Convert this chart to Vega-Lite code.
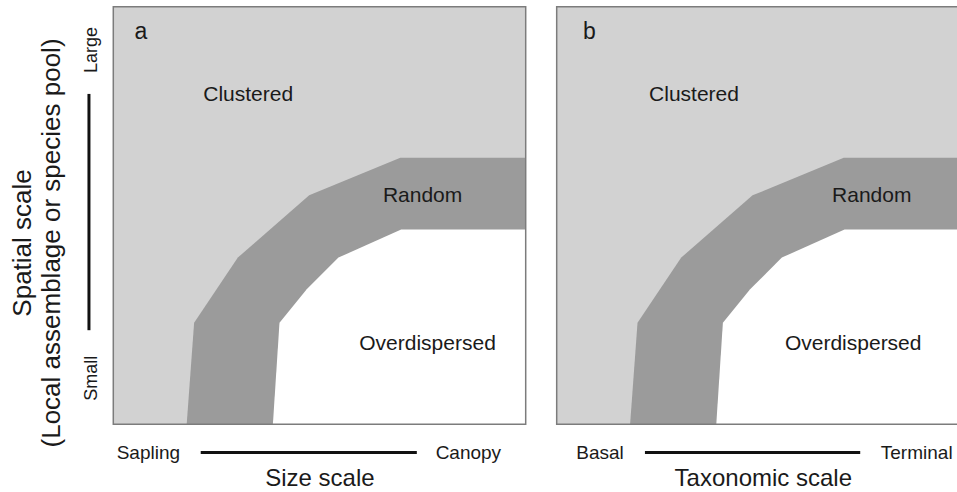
{
  "$schema": "https://vega.github.io/schema/vega-lite/v6.json",
  "width": 957,
  "height": 492,
  "autosize": {"type": "fit", "contains": "padding"},
  "padding": 0,
  "background": "white",
  "config": {"view": {"stroke": null}, "text": {"font": "Liberation Sans", "color": "#1a1a1a"}},
  "datasets": {
    "outer": [
      {"x": 17.8, "y": 0}, {"x": 19.6, "y": 24.3}, {"x": 30.2, "y": 39.9},
      {"x": 47.5, "y": 54.8}, {"x": 69.6, "y": 63.8}, {"x": 100, "y": 63.8}
    ],
    "inner": [
      {"x": 38.7, "y": 0}, {"x": 40.3, "y": 24.3}, {"x": 46.9, "y": 32.3},
      {"x": 54.6, "y": 39.9}, {"x": 69.8, "y": 46.6}, {"x": 100, "y": 46.6}
    ],
    "labels": [
      {"panel": "a", "kind": "letter", "text": "a", "x": 6.7, "y": 92.2},
      {"panel": "a", "kind": "region", "text": "Clustered", "x": 32.7, "y": 77.5},
      {"panel": "a", "kind": "region", "text": "Random", "x": 75.0, "y": 53.1},
      {"panel": "a", "kind": "region", "text": "Overdispersed", "x": 76.2, "y": 17.8},
      {"panel": "a", "kind": "end", "text": "Sapling", "x": 8.5, "y": -8.4},
      {"panel": "a", "kind": "end", "text": "Canopy", "x": 86.1, "y": -8.4},
      {"panel": "a", "kind": "title", "text": "Size scale", "x": 50.1, "y": -14.9},
      {"panel": "a", "kind": "yend", "text": "Large", "x": -5.2, "y": 89.6},
      {"panel": "a", "kind": "yend", "text": "Small", "x": -5.2, "y": 11.0},
      {"panel": "a", "kind": "ytitle", "text": "Spatial scale", "x": -21.9, "y": 43.4},
      {"panel": "a", "kind": "ytitle", "text": "(Local assemblage or species pool)", "x": -14.9, "y": 43.4},
      {"panel": "b", "kind": "letter", "text": "b", "x": 7.9, "y": 92.2},
      {"panel": "b", "kind": "region", "text": "Clustered", "x": 33.3, "y": 77.5},
      {"panel": "b", "kind": "region", "text": "Random", "x": 76.4, "y": 53.1},
      {"panel": "b", "kind": "region", "text": "Overdispersed", "x": 71.9, "y": 17.8},
      {"panel": "b", "kind": "end", "text": "Basal", "x": 10.5, "y": -8.4},
      {"panel": "b", "kind": "end", "text": "Terminal", "x": 87.3, "y": -8.4},
      {"panel": "b", "kind": "title", "text": "Taxonomic scale", "x": 50.1, "y": -14.9}
    ],
    "lines": [
      {"panel": "a", "x": 21.2, "x2": 73.6, "y": -6.8, "y2": -6.8},
      {"panel": "a", "x": -5.9, "x2": -5.9, "y": 22.5, "y2": 79.1},
      {"panel": "b", "x": 21.4, "x2": 73.6, "y": -6.8, "y2": -6.8}
    ]
  },
  "layer": [
    {
      "layer": [
        {
          "data": {"values": [{}]},
          "mark": {"type": "rect", "fill": "#d2d2d2"},
          "encoding": {
            "x": {"datum": 0, "type": "quantitative", "scale": {"domain": [-27.47, 204.58], "nice": false, "zero": false}, "axis": null},
            "x2": {"datum": 100},
            "y": {"datum": 0, "type": "quantitative", "scale": {"domain": [-16.02, 101.6], "nice": false, "zero": false}, "axis": null},
            "y2": {"datum": 100}
          }
        },
        {
          "data": {"name": "outer"},
          "mark": {"type": "area", "fill": "#9b9b9b", "interpolate": "linear"},
          "encoding": {
            "x": {"field": "x", "type": "quantitative"},
            "y": {"field": "y", "type": "quantitative"},
            "y2": {"datum": 0}
          }
        },
        {
          "data": {"name": "inner"},
          "mark": {"type": "area", "fill": "#ffffff", "interpolate": "linear"},
          "encoding": {
            "x": {"field": "x", "type": "quantitative"},
            "y": {"field": "y", "type": "quantitative"},
            "y2": {"datum": 0}
          }
        },
        {
          "data": {"values": [{}]},
          "mark": {"type": "rect", "fill": null, "fillOpacity": 0, "stroke": "#7c7c7c", "strokeWidth": 1.5},
          "encoding": {
            "x": {"datum": 0, "type": "quantitative"},
            "x2": {"datum": 100},
            "y": {"datum": 0, "type": "quantitative"},
            "y2": {"datum": 100}
          }
        },
        {
          "data": {"name": "lines"},
          "transform": [{"filter": "datum.panel === 'a'"}],
          "mark": {"type": "rule", "color": "#111111", "strokeWidth": 3},
          "encoding": {
            "x": {"field": "x", "type": "quantitative"},
            "x2": {"field": "x2"},
            "y": {"field": "y", "type": "quantitative"},
            "y2": {"field": "y2"}
          }
        },
        {
          "data": {"name": "labels"},
          "transform": [{"filter": "datum.panel === 'a' && datum.kind === 'letter'"}],
          "mark": {"type": "text", "fontSize": 23, "align": "center", "baseline": "alphabetic"},
          "encoding": {"x": {"field": "x", "type": "quantitative"}, "y": {"field": "y", "type": "quantitative"}, "text": {"field": "text"}}
        },
        {
          "data": {"name": "labels"},
          "transform": [{"filter": "datum.panel === 'a' && datum.kind === 'region'"}],
          "mark": {"type": "text", "fontSize": 21, "align": "center", "baseline": "alphabetic"},
          "encoding": {"x": {"field": "x", "type": "quantitative"}, "y": {"field": "y", "type": "quantitative"}, "text": {"field": "text"}}
        },
        {
          "data": {"name": "labels"},
          "transform": [{"filter": "datum.panel === 'a' && datum.kind === 'end'"}],
          "mark": {"type": "text", "fontSize": 19, "align": "center", "baseline": "alphabetic"},
          "encoding": {"x": {"field": "x", "type": "quantitative"}, "y": {"field": "y", "type": "quantitative"}, "text": {"field": "text"}}
        },
        {
          "data": {"name": "labels"},
          "transform": [{"filter": "datum.panel === 'a' && datum.kind === 'title'"}],
          "mark": {"type": "text", "fontSize": 24, "align": "center", "baseline": "alphabetic"},
          "encoding": {"x": {"field": "x", "type": "quantitative"}, "y": {"field": "y", "type": "quantitative"}, "text": {"field": "text"}}
        },
        {
          "data": {"name": "labels"},
          "transform": [{"filter": "datum.panel === 'a' && datum.kind === 'yend'"}],
          "mark": {"type": "text", "fontSize": 18, "align": "center", "baseline": "middle", "angle": 270},
          "encoding": {"x": {"field": "x", "type": "quantitative"}, "y": {"field": "y", "type": "quantitative"}, "text": {"field": "text"}}
        },
        {
          "data": {"name": "labels"},
          "transform": [{"filter": "datum.panel === 'a' && datum.kind === 'ytitle'"}],
          "mark": {"type": "text", "fontSize": 26, "align": "center", "baseline": "middle", "angle": 270},
          "encoding": {"x": {"field": "x", "type": "quantitative"}, "y": {"field": "y", "type": "quantitative"}, "text": {"field": "text"}}
        }
      ]
    },
    {
      "layer": [
        {
          "data": {"values": [{}]},
          "mark": {"type": "rect", "fill": "#d2d2d2", "clip": true},
          "encoding": {
            "x": {"datum": 0, "type": "quantitative", "scale": {"domain": [-134.99, 97.07], "nice": false, "zero": false}, "axis": null},
            "x2": {"datum": 100},
            "y": {"datum": 0, "type": "quantitative"},
            "y2": {"datum": 100}
          }
        },
        {
          "data": {"name": "outer"},
          "mark": {"type": "area", "fill": "#9b9b9b", "interpolate": "linear", "clip": true},
          "encoding": {
            "x": {"field": "x", "type": "quantitative"},
            "y": {"field": "y", "type": "quantitative"},
            "y2": {"datum": 0}
          }
        },
        {
          "data": {"name": "inner"},
          "mark": {"type": "area", "fill": "#ffffff", "interpolate": "linear", "clip": true},
          "encoding": {
            "x": {"field": "x", "type": "quantitative"},
            "y": {"field": "y", "type": "quantitative"},
            "y2": {"datum": 0}
          }
        },
        {
          "data": {"values": [{}]},
          "mark": {"type": "rect", "fill": null, "fillOpacity": 0, "stroke": "#7c7c7c", "strokeWidth": 1.5, "clip": true},
          "encoding": {
            "x": {"datum": 0, "type": "quantitative"},
            "x2": {"datum": 100},
            "y": {"datum": 0, "type": "quantitative"},
            "y2": {"datum": 100}
          }
        },
        {
          "data": {"name": "lines"},
          "transform": [{"filter": "datum.panel === 'b'"}],
          "mark": {"type": "rule", "color": "#111111", "strokeWidth": 3},
          "encoding": {
            "x": {"field": "x", "type": "quantitative"},
            "x2": {"field": "x2"},
            "y": {"field": "y", "type": "quantitative"},
            "y2": {"field": "y2"}
          }
        },
        {
          "data": {"name": "labels"},
          "transform": [{"filter": "datum.panel === 'b' && datum.kind === 'letter'"}],
          "mark": {"type": "text", "fontSize": 23, "align": "center", "baseline": "alphabetic"},
          "encoding": {"x": {"field": "x", "type": "quantitative"}, "y": {"field": "y", "type": "quantitative"}, "text": {"field": "text"}}
        },
        {
          "data": {"name": "labels"},
          "transform": [{"filter": "datum.panel === 'b' && datum.kind === 'region'"}],
          "mark": {"type": "text", "fontSize": 21, "align": "center", "baseline": "alphabetic"},
          "encoding": {"x": {"field": "x", "type": "quantitative"}, "y": {"field": "y", "type": "quantitative"}, "text": {"field": "text"}}
        },
        {
          "data": {"name": "labels"},
          "transform": [{"filter": "datum.panel === 'b' && datum.kind === 'end'"}],
          "mark": {"type": "text", "fontSize": 19, "align": "center", "baseline": "alphabetic"},
          "encoding": {"x": {"field": "x", "type": "quantitative"}, "y": {"field": "y", "type": "quantitative"}, "text": {"field": "text"}}
        },
        {
          "data": {"name": "labels"},
          "transform": [{"filter": "datum.panel === 'b' && datum.kind === 'title'"}],
          "mark": {"type": "text", "fontSize": 24, "align": "center", "baseline": "alphabetic"},
          "encoding": {"x": {"field": "x", "type": "quantitative"}, "y": {"field": "y", "type": "quantitative"}, "text": {"field": "text"}}
        }
      ]
    }
  ],
  "resolve": {"scale": {"x": "independent"}}
}
